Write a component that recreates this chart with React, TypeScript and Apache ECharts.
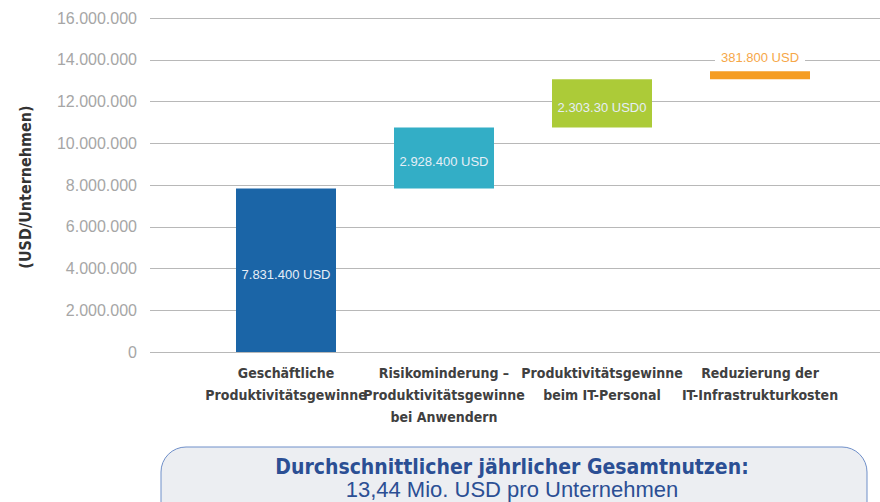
import React, { useEffect, useRef } from "react";
import * as echarts from "echarts";

const categories = [
  "Geschäftliche\nProduktivitätsgewinne",
  "Risikominderung –\nProduktivitätsgewinne\nbei Anwendern",
  "Produktivitätsgewinne\nbeim IT-Personal",
  "Reduzierung der\nIT-Infrastrukturkosten",
];
const values = [7831400, 2928400, 2303300, 381800];
const valueLabels = ["7.831.400 USD", "2.928.400 USD", "2.303.30 USD0", "381.800 USD"];
const barColors = ["#1b65a7", "#33aec6", "#accb38", "#f59d22"];
const yTicks = { min: 0, max: 16000000, interval: 2000000 };
const axisTitle = "(USD/Unternehmen)";
const summaryTitle = "Durchschnittlicher jährlicher Gesamtnutzen:";
const summaryText = "13,44 Mio. USD pro Unternehmen";

const NARROW = "'DejaVu Sans Condensed', 'Liberation Sans', sans-serif";
const SANS = "'Liberation Sans', 'Helvetica Neue', Arial, sans-serif";

function fmt(v: number): string {
  const s = Math.round(v).toString();
  return s.replace(/\B(?=(\d{3})+(?!\d))/g, ".");
}

export default function App() {
  const ref = useRef<HTMLDivElement>(null);
  useEffect(() => {
    if (!ref.current) return;
    const chart = echarts.init(ref.current, null, { renderer: "svg" });
    const bases: number[] = [];
    let acc = 0;
    values.forEach((v) => {
      bases.push(acc);
      acc += v;
    });
    chart.setOption({
      animation: false,
      grid: [
        { left: 150, right: 0, top: 18, bottom: 150 },
        { left: 207, right: 41, top: 18, bottom: 150 },
      ],
      xAxis: [
        { type: "category", gridIndex: 0, data: ["a"], show: false },
        {
          type: "category",
          gridIndex: 1,
          data: categories,
          axisLine: { show: false },
          axisTick: { show: false },
          axisLabel: {
            interval: 0,
            margin: 10,
            fontFamily: NARROW,
            fontWeight: "bold",
            fontSize: 14,
            lineHeight: 22,
            color: "#404040",
            align: "center",
          },
        },
      ],
      yAxis: [
        {
          type: "value",
          gridIndex: 0,
          min: yTicks.min,
          max: yTicks.max,
          interval: yTicks.interval,
          axisLine: { show: false },
          axisTick: { show: false },
          splitLine: { lineStyle: { color: "#b8b8b8", width: 1 } },
          axisLabel: {
            margin: 13,
            fontFamily: SANS,
            fontSize: 16,
            color: "#a6a6a6",
            formatter: (v: number) => fmt(v),
          },
        },
        {
          type: "value",
          gridIndex: 1,
          min: yTicks.min,
          max: yTicks.max,
          interval: yTicks.interval,
          show: false,
          splitLine: { show: false },
        },
      ],
      series: [
        {
          type: "bar",
          xAxisIndex: 1,
          yAxisIndex: 1,
          stack: "w",
          barWidth: 100,
          silent: true,
          itemStyle: { color: "transparent" },
          data: bases,
        },
        {
          type: "bar",
          xAxisIndex: 1,
          yAxisIndex: 1,
          stack: "w",
          barWidth: 100,
          data: values.map((v, i) => ({
            value: v,
            itemStyle: { color: barColors[i] },
            label:
              i < 3
                ? {
                    show: true,
                    position: "inside",
                    offset: [0, 4],
                    formatter: valueLabels[i],
                    color: "#e6eef7",
                    fontFamily: SANS,
                    fontSize: 13,
                  }
                : {
                    show: true,
                    position: "top",
                    distance: 6,
                    formatter: valueLabels[i],
                    color: "#f6a748",
                    fontFamily: SANS,
                    fontSize: 13,
                    backgroundColor: "#ffffff",
                    padding: [1, 6, 1, 6],
                  },
          })),
        },
      ],
      graphic: [
        {
          type: "text",
          x: 25,
          y: 187,
          rotation: Math.PI / 2,
          style: {
            text: axisTitle,
            fontFamily: NARROW,
            fontWeight: "bold",
            fontSize: 16,
            fill: "#333333",
            align: "center",
            verticalAlign: "middle",
          },
        },
        {
          type: "rect",
          shape: { x: 161, y: 447, width: 706, height: 90, r: 25 },
          style: { fill: "#eceef2", stroke: "#6f8fc9", lineWidth: 1 },
        },
        {
          type: "text",
          x: 512,
          y: 467,
          style: {
            text: summaryTitle,
            fontFamily: NARROW,
            fontWeight: "bold",
            fontSize: 21,
            fill: "#2b4f94",
            align: "center",
            verticalAlign: "middle",
          },
        },
        {
          type: "text",
          x: 512,
          y: 489,
          style: {
            text: summaryText,
            fontFamily: SANS,
            fontSize: 22,
            fill: "#2b4f94",
            align: "center",
            verticalAlign: "middle",
          },
        },
      ],
    });
    return () => chart.dispose();
  }, []);
  return (
    <div
      ref={ref}
      style={{ position: "fixed", left: 0, top: 0, width: 880, height: 502, background: "#ffffff" }}
    />
  );
}
